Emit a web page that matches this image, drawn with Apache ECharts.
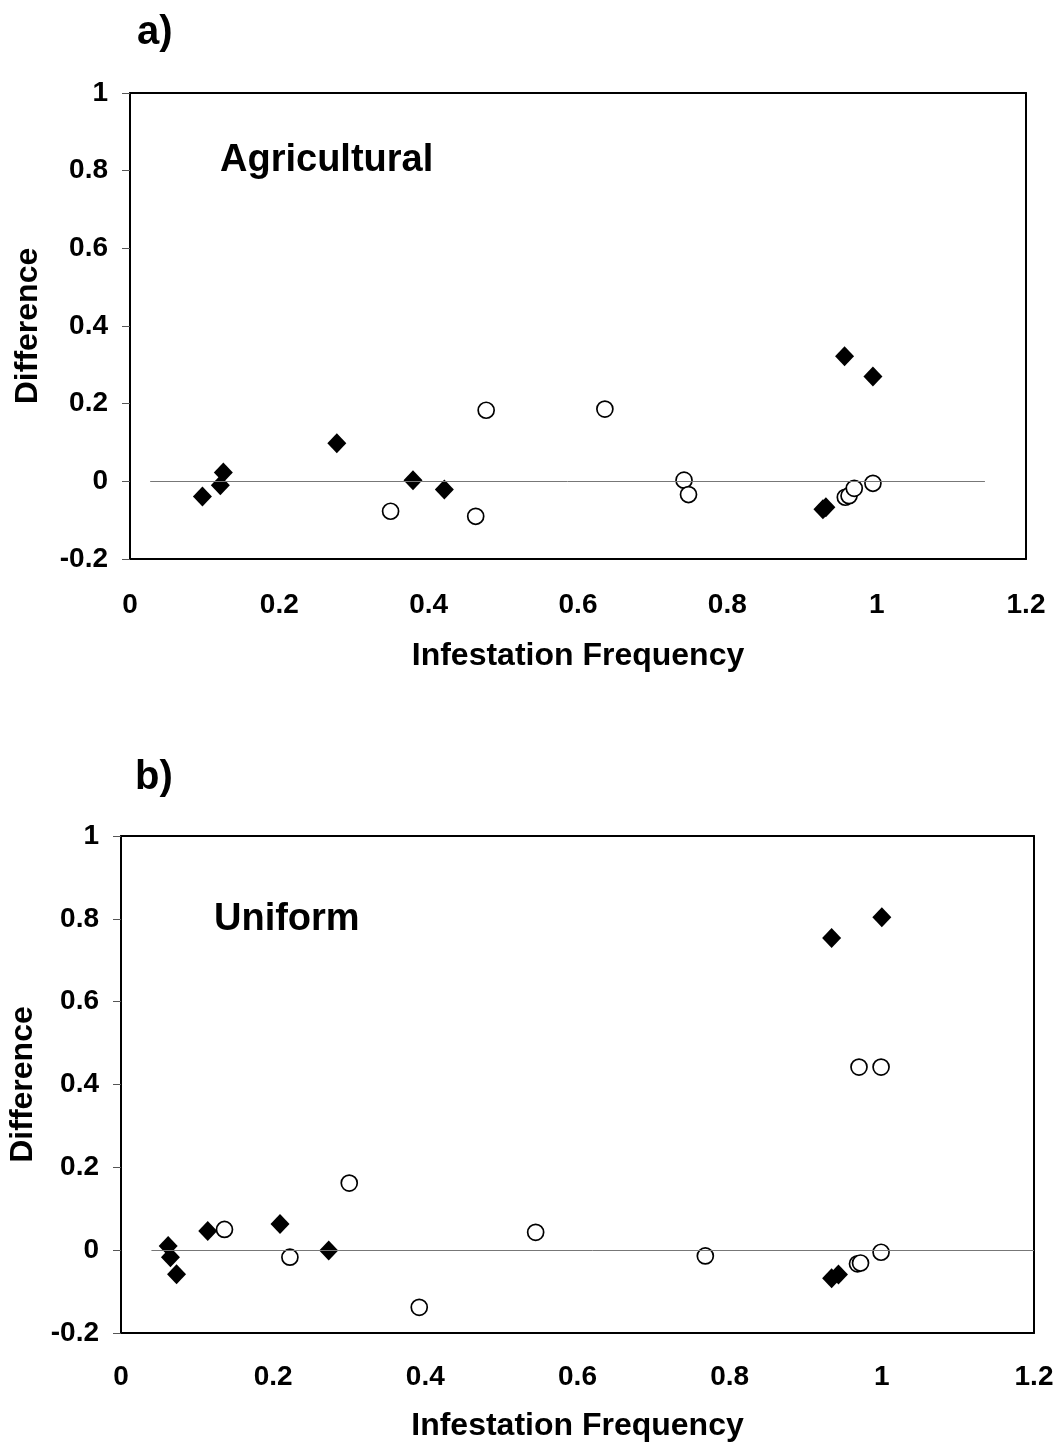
<!DOCTYPE html>
<html><head><meta charset="utf-8">
<script src="https://cdn.jsdelivr.net/npm/echarts@6/dist/echarts.min.js"></script>
<style>html,body{margin:0;padding:0;background:#fff}#c{width:1059px;height:1445px}</style>
</head><body><div id="c"></div>
<script>
// Panel a) Agricultural
var aDiamondX = [0.097, 0.121, 0.125, 0.277, 0.379, 0.421, 0.928, 0.932, 0.957, 0.995];
var aDiamondY = [-0.039, -0.010, 0.023, 0.098, 0.003, -0.021, -0.072, -0.067, 0.322, 0.270];
var aCircleX = [0.349, 0.463, 0.477, 0.636, 0.742, 0.748, 0.958, 0.963, 0.970, 0.995];
var aCircleY = [-0.077, -0.090, 0.183, 0.186, 0.003, -0.034, -0.041, -0.037, -0.018, -0.005];
// Panel b) Uniform
var bDiamondX = [0.062, 0.065, 0.073, 0.114, 0.209, 0.273, 0.934, 0.943, 0.934, 1.000];
var bDiamondY = [0.010, -0.017, -0.058, 0.046, 0.063, -0.001, -0.068, -0.059, 0.754, 0.804];
var bCircleX = [0.136, 0.222, 0.300, 0.392, 0.545, 0.768, 0.970, 0.999, 0.968, 0.972, 0.999];
var bCircleY = [0.050, -0.017, 0.162, -0.138, 0.043, -0.014, 0.442, 0.442, -0.033, -0.031, -0.005];
var xTicks = {min: 0, max: 1.2, interval: 0.2};
var yTicks = {min: -0.2, max: 1, interval: 0.2};
var titles = ['a)', 'b)'];
var labels = ['Agricultural', 'Uniform'];
var xName = 'Infestation Frequency';
var yName = 'Difference';

function pts(xs, ys) { return xs.map(function (x, i) { return [x, ys[i]]; }); }
var FONT = 'Liberation Sans, Arial, sans-serif';
var grids = [
  {left: 130, right: 33, top: 93, height: 466, outerBoundsMode: 'none', containLabel: false},
  {left: 121, right: 25, top: 836, height: 497, outerBoundsMode: 'none', containLabel: false}
];
var xNameGap = [81, 77], yNameGap = [86, 82], xLabelMargin = [32, 30];
var xAxes = [], yAxes = [];
grids.forEach(function (g, i) {
  xAxes.push({gridIndex: i, type: 'value', min: xTicks.min, max: xTicks.max, interval: xTicks.interval,
    name: xName, nameLocation: 'middle', nameGap: xNameGap[i],
    nameTextStyle: {fontFamily: FONT, fontWeight: 'bold', fontSize: 32, color: '#000'},
    axisLine: {show: true, onZero: false, lineStyle: {color: '#000', width: 2}}, axisTick: {show: false}, splitLine: {show: false},
    axisLabel: {fontFamily: FONT, fontWeight: 'bold', fontSize: 28, color: '#000', margin: xLabelMargin[i]}});
  xAxes.push({gridIndex: i, type: 'value', position: 'top', min: xTicks.min, max: xTicks.max,
    axisLine: {show: true, onZero: false, lineStyle: {color: '#000', width: 2}}, axisTick: {show: false},
    axisLabel: {show: false}, splitLine: {show: false}});
  yAxes.push({gridIndex: i, type: 'value', min: yTicks.min, max: yTicks.max, interval: yTicks.interval,
    name: yName, nameLocation: 'middle', nameGap: yNameGap[i],
    nameTextStyle: {fontFamily: FONT, fontWeight: 'bold', fontSize: 32, color: '#000'},
    axisLine: {show: true, onZero: false, lineStyle: {color: '#000', width: 2}},
    axisTick: {show: true, length: 8, lineStyle: {color: '#555', width: 1}}, splitLine: {show: false},
    axisLabel: {fontFamily: FONT, fontWeight: 'bold', fontSize: 28, color: '#000', margin: 22}});
  yAxes.push({gridIndex: i, type: 'value', position: 'right', min: yTicks.min, max: yTicks.max,
    axisLine: {show: true, onZero: false, lineStyle: {color: '#000', width: 2}}, axisTick: {show: false},
    axisLabel: {show: false}, splitLine: {show: false}});
});
function diamonds(i, data) {
  return {type: 'scatter', xAxisIndex: i * 2, yAxisIndex: i * 2, data: data, symbol: 'diamond',
    symbolSize: [19, 20], itemStyle: {color: '#000', opacity: 1}, z: 3};
}
function circles(i, data, zeroEnd) {
  return {type: 'scatter', xAxisIndex: i * 2, yAxisIndex: i * 2, data: data, symbol: 'circle',
    symbolSize: 16, itemStyle: {color: '#fff', borderColor: '#000', borderWidth: 1.7, opacity: 1}, z: 4,
    markLine: {silent: true, symbol: 'none', label: {show: false},
      lineStyle: {color: '#777', width: 1, type: 'solid'},
      data: [[{coord: [zeroEnd[0], 0]}, {coord: [zeroEnd[1], 0]}]]}};
}
var TS = function (s) { return {fontFamily: FONT, fontWeight: 'bold', fontSize: s, color: '#000'}; };
var chart = echarts.init(document.getElementById('c'), null, {renderer: 'canvas'});
chart.setOption({
  animation: false,
  backgroundColor: '#fff',
  title: [
    {text: titles[0], left: 132, top: 8, textStyle: TS(40)},
    {text: labels[0], left: 215, top: 137, textStyle: TS(38)},
    {text: titles[1], left: 130, top: 753, textStyle: TS(40)},
    {text: labels[1], left: 209, top: 896, textStyle: TS(38)}
  ],
  grid: grids,
  xAxis: xAxes,
  yAxis: yAxes,
  series: [
    circles(0, pts(aCircleX, aCircleY), [0.027, 1.145]),
    diamonds(0, pts(aDiamondX, aDiamondY)),
    circles(1, pts(bCircleX, bCircleY), [0.04, 1.2]),
    diamonds(1, pts(bDiamondX, bDiamondY))
  ]
});
</script></body></html>
